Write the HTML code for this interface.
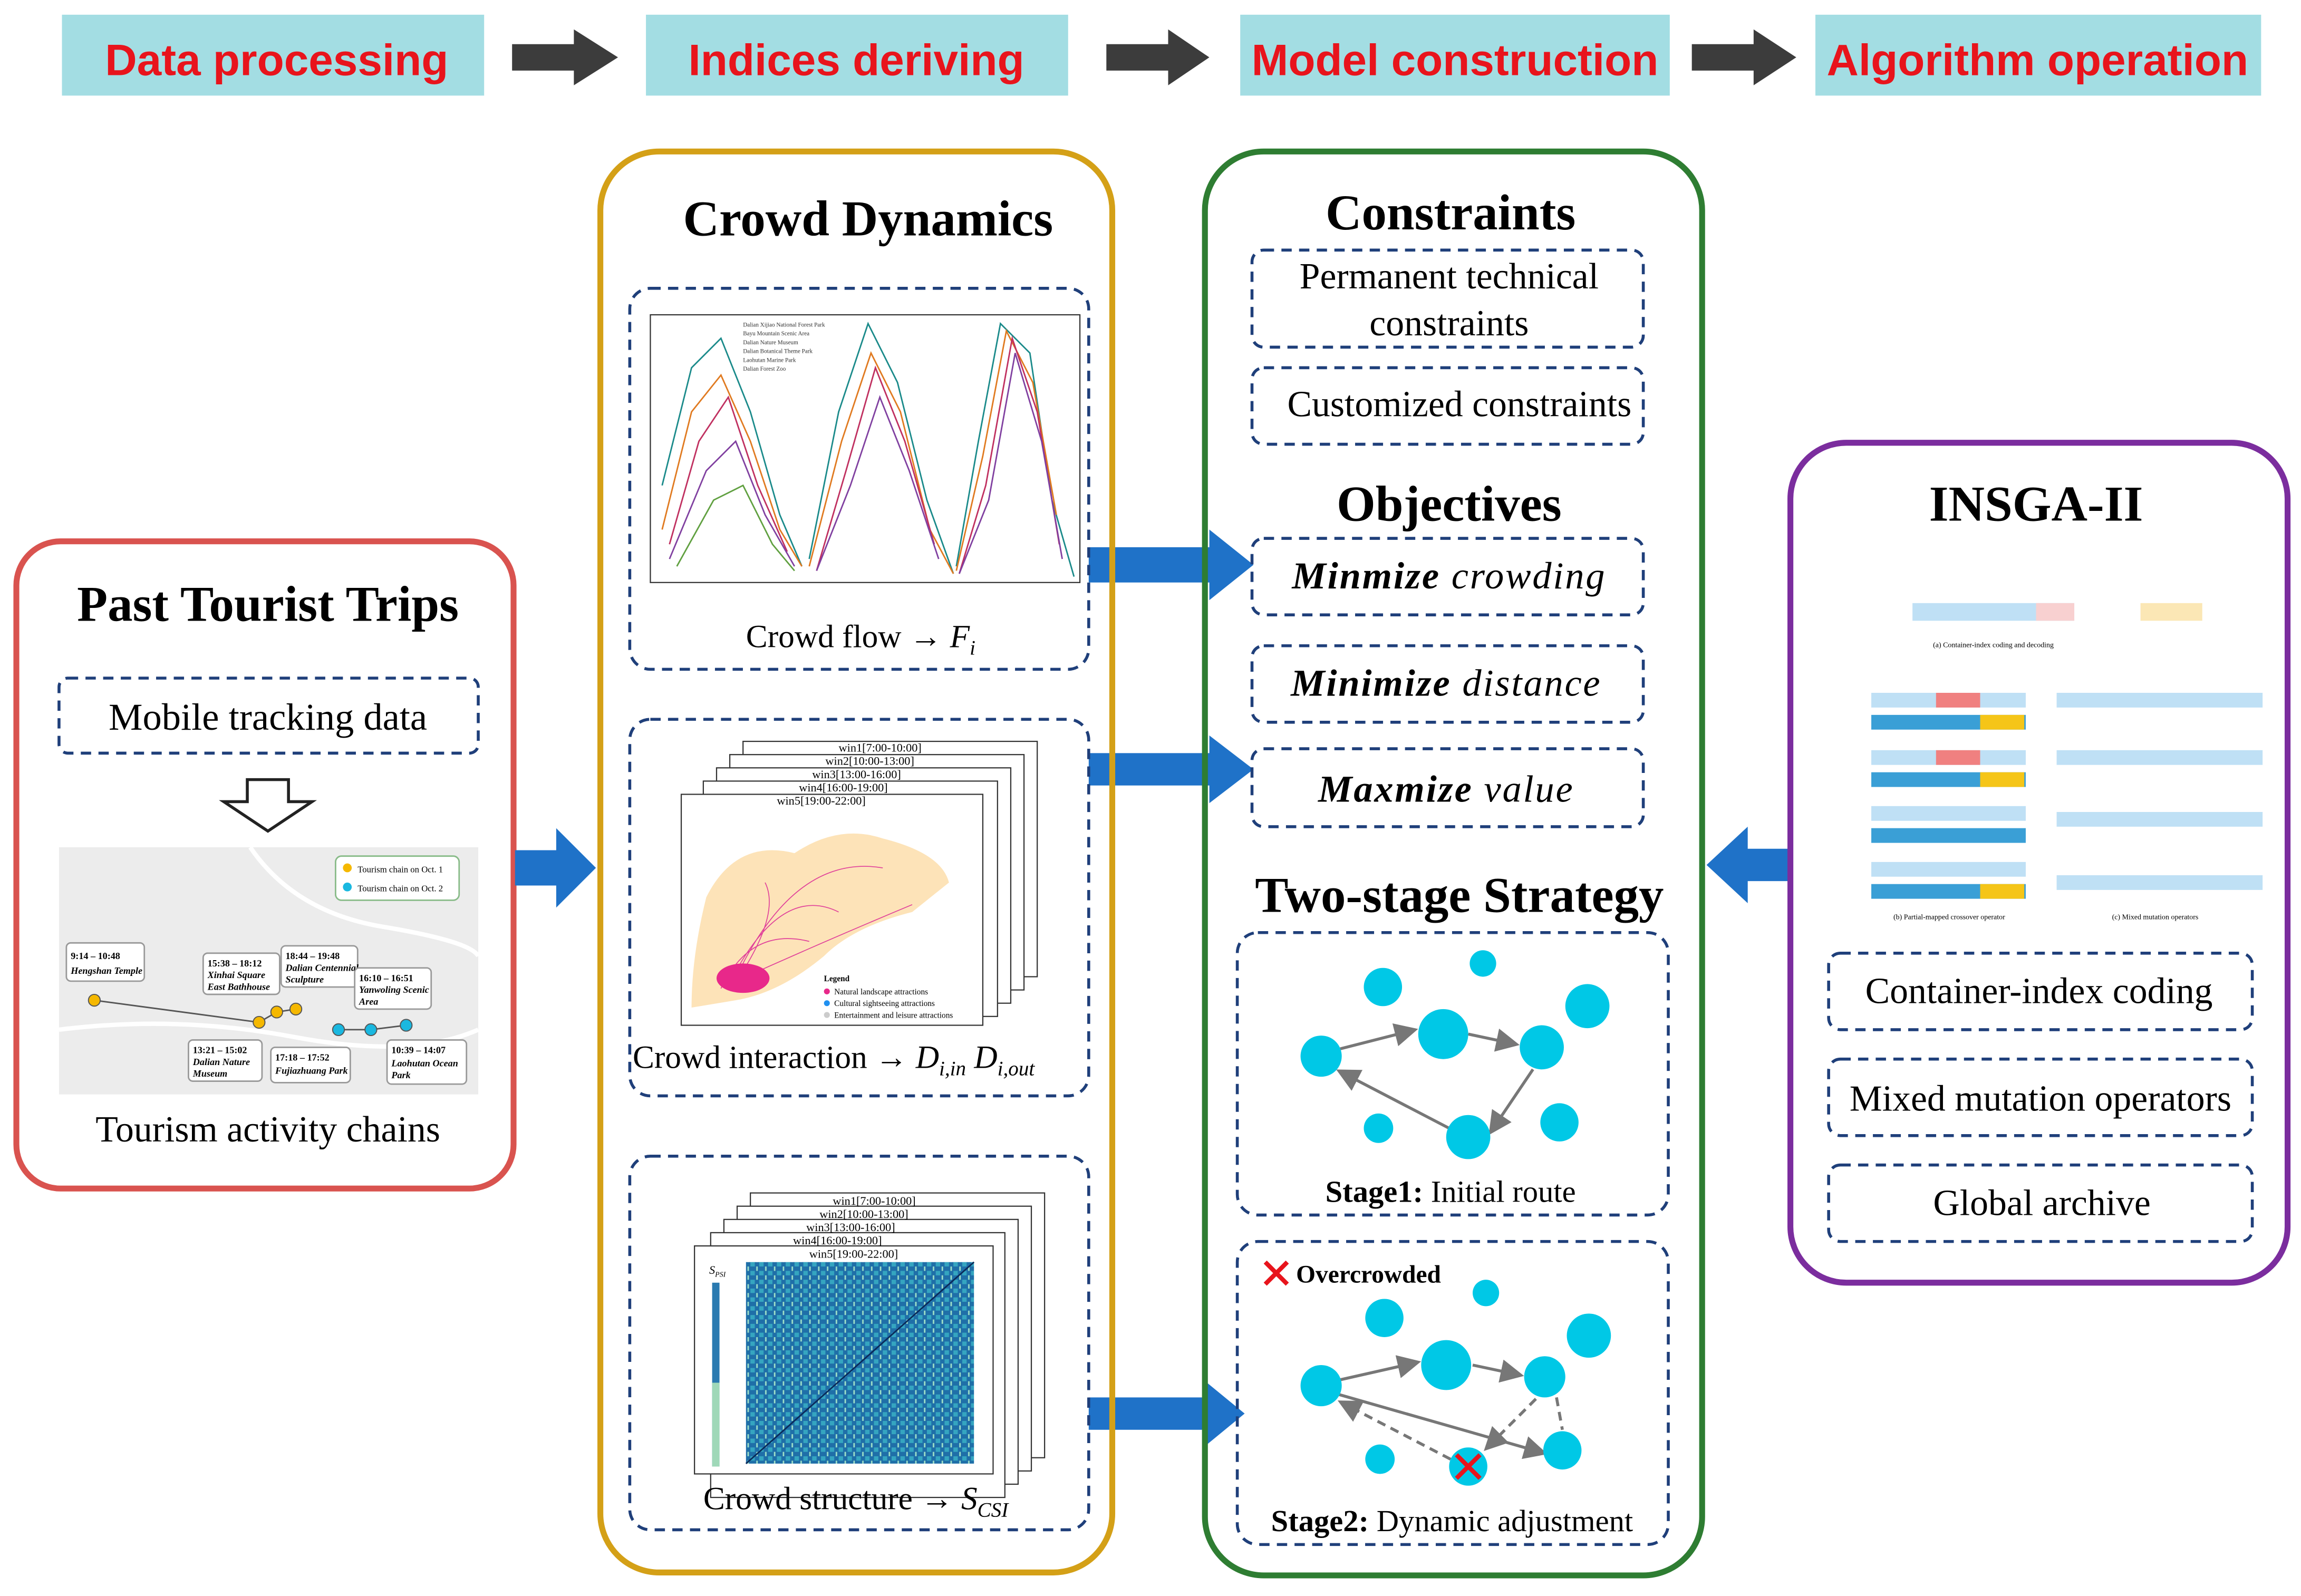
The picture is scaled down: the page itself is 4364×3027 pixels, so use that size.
<!DOCTYPE html>
<html><head><meta charset="utf-8"><style>
html,body{margin:0;padding:0;background:#fff;width:4364px;height:3027px;overflow:hidden}
svg{display:block}
.serif{font-family:"Liberation Serif",serif}
.sans{font-family:"Liberation Sans",sans-serif}
</style></head><body>
<svg width="4364" height="3027" viewBox="0 0 1564 1085" xmlns="http://www.w3.org/2000/svg">
<defs>
<marker id="ah" markerWidth="8" markerHeight="8" refX="7" refY="4" orient="auto"><path d="M0,0 L8,4 L0,8 z" fill="#777"/></marker>
<pattern id="hm" width="6" height="6" patternUnits="userSpaceOnUse"><rect width="6" height="6" fill="#1f6fa8"/><rect x="0" y="0" width="3" height="3" fill="#35a5c0"/><rect x="4" y="3" width="1" height="3" fill="#9fe0c8"/></pattern>
</defs>
<g class="sans" font-weight="bold" font-size="30" fill="#e8141c" text-anchor="middle">
<rect x="42" y="10" width="287" height="55" fill="#a3dde3"/><text x="188" y="51">Data processing</text>
<rect x="439" y="10" width="287" height="55" fill="#a3dde3"/><text x="582" y="51">Indices deriving</text>
<rect x="843" y="10" width="292" height="55" fill="#a3dde3"/><text x="989" y="51">Model construction</text>
<rect x="1234" y="10" width="303" height="55" fill="#a3dde3"/><text x="1385" y="51">Algorithm operation</text>
</g>
<g fill="#3c3c3c">
<path d="M348,30 H390 V20 L420,39 L390,58 V48 H348z"/>
<path d="M752,30 H794 V20 L822,39 L794,58 V48 H752z"/>
<path d="M1150,30 H1192 V20 L1221,39 L1192,58 V48 H1150z"/>
</g>
<rect x="11" y="368" width="338" height="440" rx="30" fill="none" stroke="#d9534f" stroke-width="4"/>
<text x="182" y="422" class="serif" font-size="34" font-weight="bold" text-anchor="middle">Past Tourist Trips</text>
<rect x="40" y="461" width="285" height="51" rx="6" fill="none" stroke="#1f3f7a" stroke-width="2" stroke-dasharray="7,5"/>
<text x="182" y="496" class="serif" font-size="26" text-anchor="middle">Mobile tracking data</text>
<path d="M168,530 H196 V545 H212 L182,565 L152,545 H168z" fill="#fff" stroke="#222" stroke-width="2"/>
<rect x="40" y="576" width="285" height="168" fill="#ececec"/>
<path d="M40,700 Q120,690 200,705 T325,700" stroke="#fff" stroke-width="3" fill="none"/>
<path d="M170,576 Q200,620 260,630 T325,650" stroke="#fff" stroke-width="3" fill="none"/>
<rect x="228" y="582" width="84" height="30" rx="4" fill="#fff" stroke="#8b8" stroke-width="1"/>
<circle cx="236" cy="590" r="3" fill="#f5b800"/><circle cx="236" cy="603" r="3" fill="#1ab8e0"/>
<text x="243" y="593" class="serif" font-size="6">Tourism chain on Oct. 1</text>
<text x="243" y="606" class="serif" font-size="6">Tourism chain on Oct. 2</text>
<polyline points="64,680 176,695 188,688 201,686" stroke="#555" fill="none"/>
<polyline points="230,700 252,700 276,697" stroke="#555" fill="none"/>
<g fill="#f5b800" stroke="#555" stroke-width="0.7"><circle cx="64" cy="680" r="4"/><circle cx="176" cy="695" r="4"/><circle cx="188" cy="688" r="4"/><circle cx="201" cy="686" r="4"/></g>
<g fill="#1ab8e0" stroke="#555" stroke-width="0.7"><circle cx="230" cy="700" r="4"/><circle cx="252" cy="700" r="4"/><circle cx="276" cy="697" r="4"/></g>
<g class="serif" font-size="6.5" font-weight="bold" fill="#000">
<rect x="45" y="641" width="53" height="26" rx="3" fill="#fff" stroke="#999"/><text x="48" y="652">9:14 – 10:48</text><text x="48" y="662" font-style="italic">Hengshan Temple</text>
<rect x="138" y="648" width="52" height="28" rx="3" fill="#fff" stroke="#999"/><text x="141" y="657">15:38 – 18:12</text><text x="141" y="665" font-style="italic">Xinhai Square</text><text x="141" y="673" font-style="italic">East Bathhouse</text>
<rect x="191" y="643" width="52" height="28" rx="3" fill="#fff" stroke="#999"/><text x="194" y="652">18:44 – 19:48</text><text x="194" y="660" font-style="italic">Dalian Centennial</text><text x="194" y="668" font-style="italic">Sculpture</text>
<rect x="241" y="658" width="52" height="28" rx="3" fill="#fff" stroke="#999"/><text x="244" y="667">16:10 – 16:51</text><text x="244" y="675" font-style="italic">Yanwoling Scenic</text><text x="244" y="683" font-style="italic">Area</text>
<rect x="128" y="707" width="50" height="28" rx="3" fill="#fff" stroke="#999"/><text x="131" y="716">13:21 – 15:02</text><text x="131" y="724" font-style="italic">Dalian Nature</text><text x="131" y="732" font-style="italic">Museum</text>
<rect x="184" y="712" width="54" height="24" rx="3" fill="#fff" stroke="#999"/><text x="187" y="721">17:18 – 17:52</text><text x="187" y="730" font-style="italic">Fujiazhuang Park</text>
<rect x="263" y="707" width="54" height="30" rx="3" fill="#fff" stroke="#999"/><text x="266" y="716">10:39 – 14:07</text><text x="266" y="725" font-style="italic">Laohutan Ocean</text><text x="266" y="733" font-style="italic">Park</text>
</g>
<text x="182" y="776" class="serif" font-size="25" text-anchor="middle">Tourism activity chains</text>
<g fill="#1f72c8">
<path d="M350,578 H378 V563 L405,590 L378,617 V602 H350z"/>
<path d="M740,372 H822 V360 L852,384 L822,408 V396 H740z"/>
<path d="M740,512 H822 V500 L852,523 L822,546 V534 H740z"/>
<path d="M740,950 H818 V938 L846,961 L818,984 V972 H740z"/>
<path d="M1215,577 H1188 V562 L1160,588 L1188,614 V599 H1215z"/>
</g>
<rect x="408" y="103" width="348" height="966" rx="40" fill="none" stroke="#d4a017" stroke-width="4"/>
<text x="590" y="160" class="serif" font-size="34" font-weight="bold" text-anchor="middle">Crowd Dynamics</text>
<rect x="428" y="196" width="312" height="259" rx="14" fill="none" stroke="#1f3f7a" stroke-width="2" stroke-dasharray="7,5"/>
<rect x="442" y="214" width="292" height="182" fill="#fff" stroke="#333" stroke-width="0.8"/>
<g fill="none" stroke-width="1">
<polyline points="450,330 470,250 490,230 510,280 530,350 545,385" stroke="#1a8a8a"/>
<polyline points="450,360 470,280 490,255 510,300 530,360 545,385" stroke="#e07a20"/>
<polyline points="455,370 475,300 495,270 515,330 535,375" stroke="#c03060"/>
<polyline points="455,380 480,320 500,300 520,350 540,385" stroke="#8040a0"/>
<polyline points="460,385 485,340 505,330 525,370 540,388" stroke="#60a040"/>
<polyline points="550,380 570,280 590,220 610,260 630,340 648,390" stroke="#1a8a8a"/>
<polyline points="550,385 572,300 592,240 612,280 632,360 648,390" stroke="#e07a20"/>
<polyline points="555,388 575,320 595,250 615,300 635,370" stroke="#c03060"/>
<polyline points="555,388 578,330 598,270 618,320 638,380" stroke="#8040a0"/>
<polyline points="650,385 665,300 680,220 700,240 715,340 730,392" stroke="#1a8a8a"/>
<polyline points="650,388 668,310 684,225 702,260 718,350" stroke="#e07a20"/>
<polyline points="652,390 670,330 688,230 705,280 720,370" stroke="#c03060"/>
<polyline points="652,390 672,340 690,240 708,300 722,380" stroke="#8040a0"/>
</g>
<g class="serif" font-size="4" fill="#333"><text x="505" y="222">Dalian Xijiao National Forest Park</text><text x="505" y="228">Bayu Mountain Scenic Area</text><text x="505" y="234">Dalian Nature Museum</text><text x="505" y="240">Dalian Botanical Theme Park</text><text x="505" y="246">Laohutan Marine Park</text><text x="505" y="252">Dalian Forest Zoo</text></g>
<text x="507" y="440" class="serif" font-size="22">Crowd flow → <tspan font-style="italic">F</tspan><tspan font-size="14" font-style="italic" dy="5">i</tspan></text>
<rect x="428" y="489" width="312" height="256" rx="14" fill="none" stroke="#1f3f7a" stroke-width="2" stroke-dasharray="7,5"/>
<g stroke="#333" stroke-width="0.8" fill="#fff">
<rect x="505" y="504" width="200" height="160"/><rect x="496" y="513" width="200" height="160"/><rect x="487" y="522" width="200" height="160"/><rect x="478" y="531" width="200" height="160"/><rect x="463" y="540" width="205" height="157"/>
</g>
<g class="serif" font-size="8" fill="#000"><text x="570" y="511">win1[7:00-10:00]</text><text x="561" y="520">win2[10:00-13:00]</text><text x="552" y="529">win3[13:00-16:00]</text><text x="543" y="538">win4[16:00-19:00]</text><text x="528" y="547">win5[19:00-22:00]</text></g>
<path d="M480,610 Q500,570 540,580 Q570,560 600,570 Q640,580 645,600 L620,620 Q580,630 560,650 Q530,675 500,680 L470,685 Q470,650 480,610z" fill="#fde3b8"/>
<g fill="none" stroke="#e0409a" stroke-width="0.6"><path d="M495,670 Q530,600 570,620"/><path d="M500,665 Q540,580 600,590"/><path d="M498,668 Q560,640 620,615"/><path d="M505,660 Q530,620 520,600"/><path d="M490,672 Q510,630 550,640"/></g>
<ellipse cx="505" cy="665" rx="18" ry="10" fill="#e8288a"/>
<g class="serif" font-size="5.5"><text x="560" y="667" font-weight="bold">Legend</text><circle cx="562" cy="674" r="2" fill="#e8288a"/><text x="567" y="676">Natural landscape attractions</text><circle cx="562" cy="682" r="2" fill="#2090f0"/><text x="567" y="684">Cultural sightseeing attractions</text><circle cx="562" cy="690" r="2" fill="#ccc"/><text x="567" y="692">Entertainment and leisure attractions</text></g>
<text x="430" y="726" class="serif" font-size="22">Crowd interaction → <tspan font-style="italic">D</tspan><tspan font-size="14" font-style="italic" dy="5">i,in</tspan><tspan dy="-5" font-style="italic"> D</tspan><tspan font-size="14" font-style="italic" dy="5">i,out</tspan></text>
<rect x="428" y="786" width="312" height="254" rx="14" fill="none" stroke="#1f3f7a" stroke-width="2" stroke-dasharray="7,5"/>
<g stroke="#333" stroke-width="0.8" fill="#fff">
<rect x="510" y="811" width="200" height="180"/><rect x="501" y="820" width="200" height="180"/><rect x="492" y="829" width="200" height="180"/><rect x="483" y="838" width="200" height="180"/><rect x="472" y="847" width="203" height="155"/>
</g>
<g class="serif" font-size="8"><text x="566" y="819">win1[7:00-10:00]</text><text x="557" y="828">win2[10:00-13:00]</text><text x="548" y="837">win3[13:00-16:00]</text><text x="539" y="846">win4[16:00-19:00]</text><text x="550" y="855">win5[19:00-22:00]</text></g>
<rect x="507" y="858" width="155" height="137" fill="url(#hm)"/>
<line x1="507" y1="995" x2="662" y2="858" stroke="#0a2a5a" stroke-width="1"/>
<rect x="484" y="872" width="5" height="125" fill="#2a7ab0"/><rect x="484" y="940" width="5" height="57" fill="#9fd8b8"/>
<text x="482" y="866" class="serif" font-size="8" font-style="italic">S<tspan font-size="5" dy="2">PSI</tspan></text>
<text x="478" y="1026" class="serif" font-size="22">Crowd structure → <tspan font-style="italic">S</tspan><tspan font-size="14" font-style="italic" dy="5">CSI</tspan></text>
<rect x="819" y="103" width="338" height="968" rx="40" fill="none" stroke="#2e7d32" stroke-width="4"/>
<g class="serif" font-size="34" font-weight="bold" text-anchor="middle">
<text x="986" y="156">Constraints</text><text x="985" y="354">Objectives</text><text x="992" y="620">Two-stage Strategy</text></g>
<g fill="none" stroke="#1f3f7a" stroke-width="2" stroke-dasharray="7,5">
<rect x="851" y="170" width="266" height="66" rx="8"/><rect x="851" y="250" width="266" height="52" rx="8"/>
<rect x="851" y="366" width="266" height="52" rx="8"/><rect x="851" y="439" width="266" height="52" rx="8"/><rect x="851" y="509" width="266" height="53" rx="8"/>
<rect x="841" y="634" width="293" height="192" rx="14"/><rect x="841" y="844" width="293" height="206" rx="14"/>
</g>
<g class="serif" font-size="25" text-anchor="middle">
<text x="985" y="196">Permanent technical</text><text x="985" y="228">constraints</text><text x="992" y="283">Customized constraints</text></g>
<g class="serif" font-size="26" font-style="italic" text-anchor="middle" letter-spacing="1">
<text x="985" y="400"><tspan font-weight="bold">Minmize</tspan> crowding</text>
<text x="983" y="473"><tspan font-weight="bold">Minimize</tspan> distance</text>
<text x="983" y="545"><tspan font-weight="bold">Maxmize</tspan> value</text></g>
<g stroke="#777" stroke-width="2" fill="none">
<line x1="911" y1="713" x2="962" y2="700" marker-end="url(#ah)"/>
<line x1="998" y1="703" x2="1031" y2="710" marker-end="url(#ah)"/>
<line x1="1042" y1="727" x2="1013" y2="770" marker-end="url(#ah)"/>
<line x1="985" y1="767" x2="910" y2="728" marker-end="url(#ah)"/>
</g>
<g fill="#00c8e6"><circle cx="940" cy="671" r="13"/><circle cx="1008" cy="655" r="9"/><circle cx="981" cy="703" r="17"/><circle cx="1079" cy="684" r="15"/><circle cx="898" cy="718" r="14"/><circle cx="1048" cy="712" r="15"/><circle cx="937" cy="767" r="10"/><circle cx="998" cy="773" r="15"/><circle cx="1060" cy="763" r="13"/></g>
<text x="986" y="817" class="serif" font-size="21" text-anchor="middle"><tspan font-weight="bold">Stage1:</tspan> Initial route</text>
<g stroke="#777" stroke-width="2" fill="none">
<line x1="911" y1="938" x2="964" y2="926" marker-end="url(#ah)"/>
<line x1="1001" y1="928" x2="1034" y2="935" marker-end="url(#ah)"/>
<line x1="1044" y1="951" x2="1010" y2="985" stroke-dasharray="6,4" marker-end="url(#ah)"/>
<line x1="986" y1="992" x2="911" y2="953" stroke-dasharray="6,4" marker-end="url(#ah)"/>
<line x1="1058" y1="950" x2="1062" y2="972" stroke-dasharray="6,4"/>
<line x1="910" y1="948" x2="1050" y2="988" marker-end="url(#ah)"/>
</g>
<g fill="#00c8e6"><circle cx="941" cy="896" r="13"/><circle cx="1010" cy="879" r="9"/><circle cx="983" cy="928" r="17"/><circle cx="1080" cy="908" r="15"/><circle cx="898" cy="942" r="14"/><circle cx="1050" cy="936" r="14"/><circle cx="938" cy="992" r="10"/><circle cx="998" cy="997" r="13"/><circle cx="1062" cy="986" r="13"/></g>
<g stroke="#e8141c" stroke-width="3"><line x1="990" y1="989" x2="1006" y2="1005"/><line x1="1006" y1="989" x2="990" y2="1005"/>
<line x1="860" y1="858" x2="875" y2="873"/><line x1="875" y1="858" x2="860" y2="873"/></g>
<text x="881" y="872" class="serif" font-size="17" font-weight="bold">Overcrowded</text>
<text x="987" y="1041" class="serif" font-size="21" text-anchor="middle"><tspan font-weight="bold">Stage2:</tspan> Dynamic adjustment</text>
<rect x="1217" y="301" width="338" height="571" rx="38" fill="none" stroke="#7b2d9e" stroke-width="4"/>
<text x="1384" y="354" class="serif" font-size="34" font-weight="bold" text-anchor="middle">INSGA-II</text>
<g>
<rect x="1300" y="410" width="110" height="12" fill="#bfe0f5"/><rect x="1384" y="410" width="26" height="12" fill="#f8d0d0"/><rect x="1455" y="410" width="42" height="12" fill="#fbe7b5"/>
<text x="1355" y="440" class="serif" font-size="5" text-anchor="middle">(a) Container-index coding and decoding</text>
<g fill="#bfe0f5"><rect x="1272" y="471" width="105" height="10"/><rect x="1272" y="510" width="105" height="10"/><rect x="1272" y="548" width="105" height="10"/><rect x="1272" y="586" width="105" height="10"/><rect x="1398" y="471" width="140" height="10"/><rect x="1398" y="510" width="140" height="10"/><rect x="1398" y="552" width="140" height="10"/><rect x="1398" y="595" width="140" height="10"/></g>
<g fill="#3a9fd6"><rect x="1272" y="486" width="105" height="10"/><rect x="1272" y="525" width="105" height="10"/><rect x="1272" y="563" width="105" height="10"/><rect x="1272" y="601" width="105" height="10"/></g>
<g fill="#f08080"><rect x="1316" y="471" width="30" height="10"/><rect x="1316" y="510" width="30" height="10"/></g>
<g fill="#f5c518"><rect x="1346" y="486" width="30" height="10"/><rect x="1346" y="525" width="30" height="10"/><rect x="1346" y="601" width="30" height="10"/></g>
<text x="1325" y="625" class="serif" font-size="5" text-anchor="middle">(b) Partial-mapped crossover operator</text>
<text x="1465" y="625" class="serif" font-size="5" text-anchor="middle">(c) Mixed mutation operators</text>
</g>
<g fill="none" stroke="#1f3f7a" stroke-width="2" stroke-dasharray="7,5">
<rect x="1243" y="648" width="288" height="52" rx="8"/><rect x="1243" y="720" width="288" height="52" rx="8"/><rect x="1243" y="792" width="288" height="52" rx="8"/></g>
<g class="serif" font-size="25" text-anchor="middle"><text x="1386" y="682">Container-index coding</text><text x="1387" y="755">Mixed mutation operators</text><text x="1388" y="826">Global archive</text></g>
</svg>
</body></html>
